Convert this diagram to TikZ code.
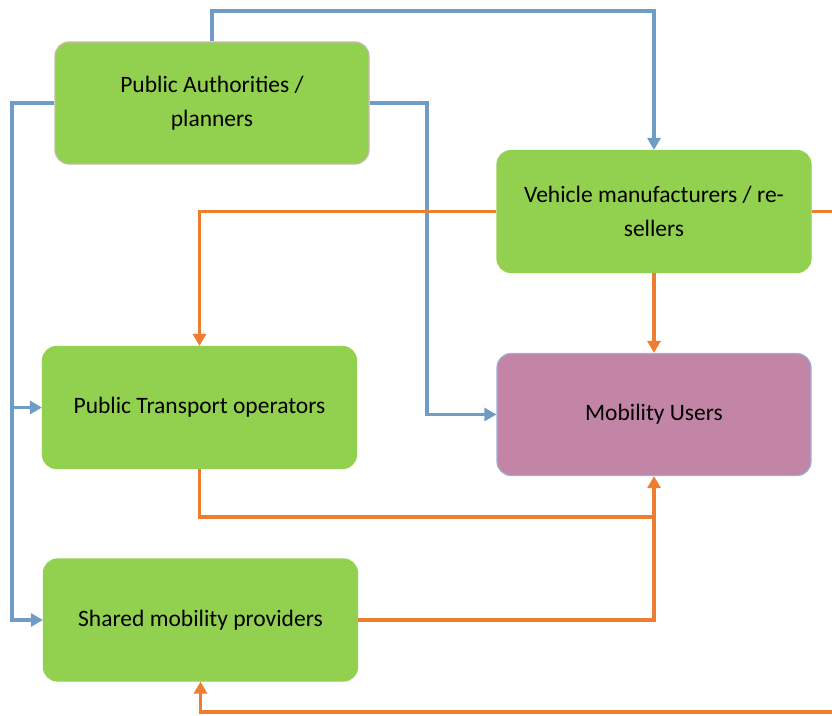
\documentclass[tikz,border=0pt]{standalone}
\usepackage{fontspec}
\setmainfont{Carlito}
\usetikzlibrary{arrows.meta}
\definecolor{boxgreen}{HTML}{92D050}
\definecolor{usermauve}{HTML}{C285A6}
\definecolor{userborder}{HTML}{9BB1D4}
\definecolor{paborder}{HTML}{C9B9A6}
\definecolor{flowblue}{HTML}{6F9BC7}
\definecolor{floworange}{HTML}{ED7D31}
\tikzset{
  actor/.style={rectangle, rounded corners=14pt, fill=boxgreen, draw=boxgreen,
    line width=1.2pt, minimum width=314pt, minimum height=122pt,
    align=center, text=black, font=\fontsize{23.5}{34}\selectfont},
  blueflow/.style={draw=flowblue, line width=3.8pt},
  orangeflow/.style={draw=floworange, line width=3.8pt},
  tip/.style={-{Triangle[length=12pt,width=13pt]}},
}
\begin{document}
\begin{tikzpicture}[x=1pt,y=-1pt]
\useasboundingbox (0,0) rectangle (832,715);

% stakeholder boxes
\node[actor, draw=paborder] (pa)  at (212,103)   {Public Authorities /\\planners};
\node[actor] (vm)  at (654,211.5) {Vehicle manufacturers / re-\\sellers};
\node[actor] (pto) at (199.5,407.5) {Public Transport operators};
\node[actor, fill=usermauve, draw=userborder] (mu) at (654,414.5) {Mobility Users};
\node[actor] (smp) at (200.5,620) {Shared mobility providers};

% routing guides
\coordinate (topY)   at (0,11);
\coordinate (leftX)  at (12,0);
\coordinate (midX)   at (427,0);
\coordinate (rightX) at (837,0);
\coordinate (botY)   at (0,712);
\coordinate (joinY)  at (0,517);

% authorities' links (blue)
\draw[blueflow, tip] (pa.north) -- (pa.north |- topY) -| (vm.north);
\draw[blueflow, tip] (pa.west) -| (leftX |- smp.west) -- (smp.west);
\draw[blueflow, tip] (leftX |- pto.west) -- (pto.west);
\draw[blueflow, tip] (pa.east) -| (midX |- mu.west) -- (mu.west);

% vehicle and service flows (orange)
\draw[orangeflow, tip] (vm.west) -| (pto.north);
\draw[orangeflow, tip] (vm.east) -| (rightX |- botY) -| (smp.south);
\draw[orangeflow, tip] (vm.south) -- (mu.north);
\draw[orangeflow, tip] (pto.south) |- (mu.south |- joinY) -- (mu.south);
\draw[orangeflow] (smp.east) -| (mu.south |- joinY);
\end{tikzpicture}
\end{document}
